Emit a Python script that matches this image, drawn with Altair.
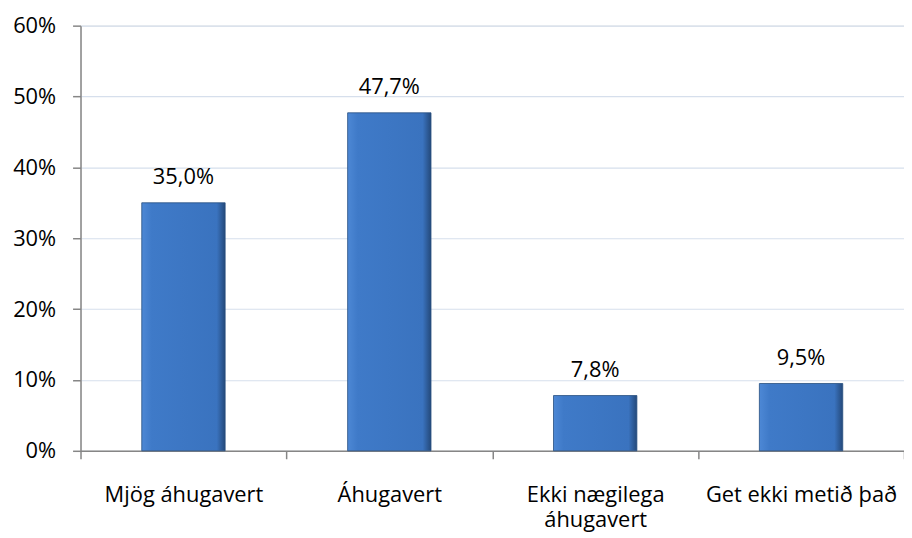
import altair as alt
import pandas as pd

categories = ["Mjög áhugavert", "Áhugavert", "Ekki nægilega áhugavert", "Get ekki metið það"]
values = [35.0, 47.7, 7.8, 9.5]
labels = [f"{v:.1f}".replace(".", ",") + "%" for v in values]

df = pd.DataFrame({"cat": categories, "val": values, "lab": labels})

FONT = "Open Sans"
FS = 22

x = alt.X(
    "cat:N",
    sort=categories,
    title=None,
    scale=alt.Scale(paddingInner=0, paddingOuter=0),
    axis=alt.Axis(
        labelAngle=0,
        labelFont=FONT,
        labelFontSize=FS,
        labelColor="#000000",
        labelPadding=26,
        labelLimit=300,
        labelBaseline="top",
        tickBand="extent",
        tickSize=8,
        tickColor="#868686",
        tickWidth=1.5,
        domainColor="#868686",
        domainWidth=1.5,
        labelExpr="datum.value == 'Ekki nægilega áhugavert' ? ['Ekki nægilega', 'áhugavert'] : datum.value",
        labelLineHeight=25,
    ),
)
y = alt.Y(
    "val:Q",
    title=None,
    scale=alt.Scale(domain=[0, 60], nice=False),
    axis=alt.Axis(
        values=[0, 10, 20, 30, 40, 50, 60],
        labelExpr="datum.value + '%'",
        labelFont=FONT,
        labelFontSize=FS,
        labelColor="#000000",
        labelPadding=17,
        tickSize=8,
        tickColor="#868686",
        tickWidth=1.5,
        domainColor="#868686",
        domainWidth=1.5,
        gridColor="#d6dfec",
        gridWidth=1.2,
        grid=True,
    ),
)

grad = alt.Gradient(
    gradient="linear",
    x1=0, x2=1, y1=0, y2=0,
    stops=[
        alt.GradientStop(color="#4d88d5", offset=0),
        alt.GradientStop(color="#3f7ac8", offset=0.12),
        alt.GradientStop(color="#3a73bf", offset=0.9),
        alt.GradientStop(color="#24497a", offset=1),
    ],
)

bars = alt.Chart(df).mark_bar(
    fill=grad, stroke="#264e80", strokeWidth=0.8, width=alt.RelativeBandSize(0.405)
).encode(x=x, y=y)
text = alt.Chart(df).mark_text(
    font=FONT, fontSize=FS, baseline="alphabetic", dy=-19, color="#000000"
).encode(x=alt.X("cat:N", sort=categories), y="val:Q", text="lab:N")

chart = (
    (bars + text)
    .properties(
        width=829,
        height=428,
        autosize=alt.AutoSizeParams(type="none"),
        padding={"left": 73, "top": 16, "right": 0, "bottom": 84},
    )
    .configure_view(stroke=None)
    .configure(background="#ffffff")
)

chart.save("out.html", embed_options={"renderer": "svg", "actions": False})
